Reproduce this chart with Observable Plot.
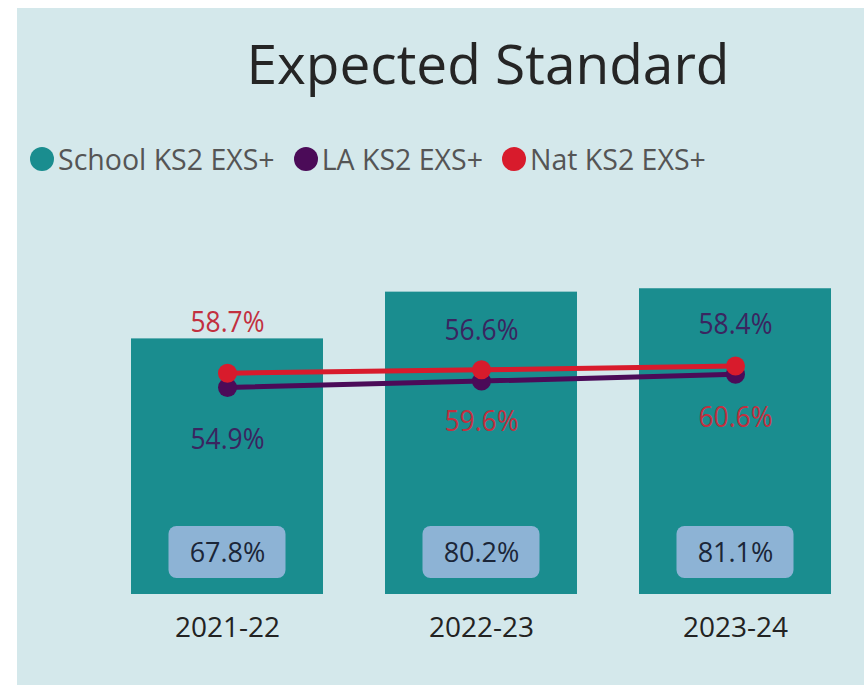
<!DOCTYPE html>
<html>
<head>
<meta charset="utf-8">
<script src="https://cdn.jsdelivr.net/npm/d3@7"></script>
<script src="https://cdn.jsdelivr.net/npm/@observablehq/plot@0.6"></script>
<style>
  body { margin: 0; background: #ffffff; }
  #wrap { position: relative; width: 864px; height: 685px; overflow: hidden; font-family: "Open Sans", sans-serif; }
  #panel { position: absolute; left: 17px; top: 8px; right: 0; bottom: 0; background: #d4e8eb; }
  #title { position: absolute; left: 488px; top: 35px; transform: translateX(-50%); font-size: 55px; line-height: 1; color: #252525; white-space: nowrap; }
  #legend { position: absolute; left: 30px; top: 145px; display: flex; align-items: center; font-size: 28.5px; line-height: 1; color: #555555; white-space: nowrap; }
  #legend .item { display: flex; align-items: center; margin-right: 19px; }
  #legend .sw { width: 24px; height: 24px; border-radius: 50%; margin-right: 4px; }
  #chart { position: absolute; left: 0; top: 0; }
</style>
</head>
<body>
<div id="wrap">
  <div id="panel"></div>
  <div id="title">Expected Standard</div>
  <div id="legend"></div>
  <div id="chart"></div>
</div>
<script>
const years = ["2021-22", "2022-23", "2023-24"];
const schoolValues = [67.8, 80.2, 81.1];
const laValues = [54.9, 56.6, 58.4];
const natValues = [58.7, 59.6, 60.6];
const seriesNames = ["School KS2 EXS+", "LA KS2 EXS+", "Nat KS2 EXS+"];

const colors = { school: "#1a8d8f", la: "#4b0b58", nat: "#d81b2c" };
const labelColors = { la: "#3a2560", nat: "#c2303f" };
// which series label sits above the point in each year (layout, as in the original)
const aboveSeries = ["nat", "la", "la"];

const data = years.map((year, i) => ({ year, school: schoolValues[i], la: laValues[i], nat: natValues[i] }));
const fmt = v => v.toFixed(1) + "%";

const labels = [];
data.forEach((d, i) => {
  for (const s of ["la", "nat"]) {
    labels.push({ year: d.year, value: d[s], series: s, above: aboveSeries[i] === s });
  }
});

// legend
const legend = document.getElementById("legend");
[["school", seriesNames[0]], ["la", seriesNames[1]], ["nat", seriesNames[2]]].forEach(([k, name]) => {
  const item = document.createElement("div");
  item.className = "item";
  const sw = document.createElement("span");
  sw.className = "sw";
  sw.style.background = colors[k];
  const t = document.createElement("span");
  t.textContent = name;
  item.append(sw, t);
  legend.append(item);
});

const plot = Plot.plot({
  width: 864,
  height: 685,
  marginLeft: 130,
  marginRight: 31,
  marginTop: 217,
  marginBottom: 91,
  style: { background: "transparent", fontFamily: "Open Sans, sans-serif", fontSize: "28px", color: "#222222", overflow: "visible" },
  x: { domain: years, paddingInner: 0.243, paddingOuter: 0, tickSize: 0, tickPadding: 23, label: null },
  y: { domain: [0, 100], axis: null },
  marks: [
    Plot.barY(data, { x: "year", y: "school", fill: colors.school }),
    Plot.barY(data, { x: "year", y1: 0, y2: 0, insetTop: -68, insetBottom: 16, insetLeft: 37.5, insetRight: 37.5, rx: 8, fill: "#8db3d5" }),
    Plot.text(data, { x: "year", y: 0, text: d => fmt(d.school), dy: -41, fontSize: 27, fill: "#1b2638", lineAnchor: "middle" }),
    Plot.line(data, { x: "year", y: "la", stroke: colors.la, strokeWidth: 5 }),
    Plot.dot(data, { x: "year", y: "la", r: 9.5, fill: colors.la }),
    Plot.line(data, { x: "year", y: "nat", stroke: colors.nat, strokeWidth: 5 }),
    Plot.dot(data, { x: "year", y: "nat", r: 9.5, fill: colors.nat }),
    Plot.text(labels.filter(d => d.above), { x: "year", y: "value", text: d => fmt(d.value), dy: -50, fontSize: 29, fill: d => labelColors[d.series], lineAnchor: "middle" }),
    Plot.text(labels.filter(d => !d.above), { x: "year", y: "value", text: d => fmt(d.value), dy: 52, fontSize: 29, fill: d => labelColors[d.series], lineAnchor: "middle" })
  ]
});

// narrow the series value-label glyphs slightly, as in the original typeface
const textGroups = plot.querySelectorAll("g[aria-label='text']");
Array.from(textGroups).slice(1).forEach(g => g.querySelectorAll("text").forEach(t => {
  let tr = t.getAttribute("transform") || "";
  const x = t.getAttribute("x");
  if (x != null && !isNaN(+x)) {
    tr += ` translate(${+x},0)`;
    t.removeAttribute("x");
  }
  t.setAttribute("transform", (tr + " scale(0.91,1)").trim());
}));

document.getElementById("chart").append(plot);
</script>
</body>
</html>
